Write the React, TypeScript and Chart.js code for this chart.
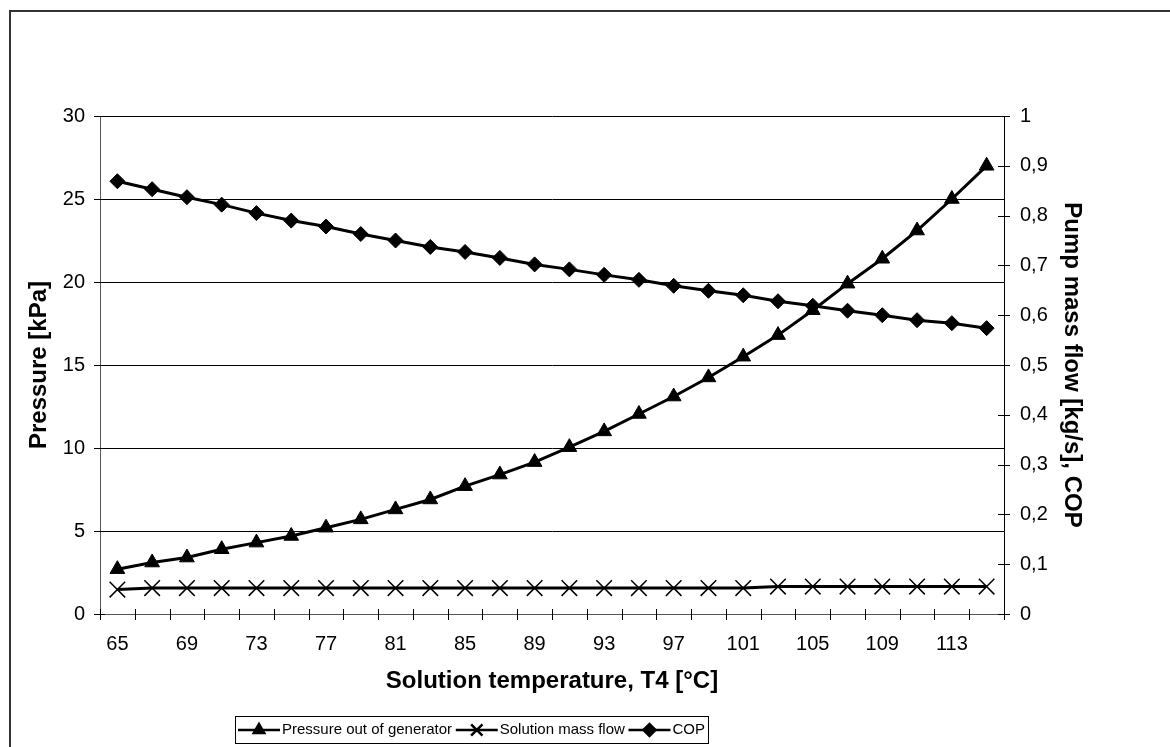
import { useEffect, useRef } from 'react';
import { Chart, registerables } from 'chart.js';
import { drawPoint } from 'chart.js/helpers';

Chart.register(...registerables);

const temperatures = ['65','67','69','71','73','75','77','79','81','83','85','87','89','91','93','95','97','99','101','103','105','107','109','111','113','115'];
const pressure = [2.7,3.1,3.4,3.9,4.3,4.7,5.2,5.7,6.3,6.9,7.7,8.4,9.15,10.05,11.0,12.05,13.1,14.25,15.5,16.8,18.3,19.9,21.4,23.1,25.0,27.0];
const massFlow = [0.049,0.052,0.052,0.052,0.052,0.052,0.052,0.052,0.052,0.052,0.052,0.052,0.052,0.052,0.052,0.052,0.052,0.052,0.052,0.055,0.055,0.055,0.055,0.055,0.055,0.055];
const cop = [0.869,0.853,0.837,0.822,0.805,0.790,0.778,0.763,0.750,0.737,0.727,0.715,0.702,0.692,0.681,0.671,0.659,0.649,0.640,0.628,0.619,0.609,0.600,0.590,0.584,0.574];
const seriesNames = ['Pressure out of generator', 'Solution mass flow', 'COP'];

const FONT = "'Liberation Sans', Arial, sans-serif";

const decor = {
  id: 'decor',
  beforeDraw(chart: any) {
    const ctx = chart.ctx;
    ctx.save();
    ctx.fillStyle = '#fff';
    ctx.fillRect(0, 0, chart.width, chart.height);
    ctx.strokeStyle = '#333';
    ctx.lineWidth = 2;
    ctx.strokeRect(10, 11, chart.width + 50, chart.height + 50);
    ctx.restore();
  },
  afterDraw(chart: any) {
    const ctx = chart.ctx;
    const { x, y, y1 } = chart.scales;
    const area = chart.chartArea;
    ctx.save();
    ctx.strokeStyle = '#000';
    ctx.lineWidth = 1;
    const n = chart.data.labels.length;
    const half = (x.getPixelForValue(1) - x.getPixelForValue(0)) / 2;
    for (let i = 0; i <= n; i++) {
      const px = Math.round(i < n ? x.getPixelForValue(i) - half : x.getPixelForValue(n - 1) + half) + 0.5;
      ctx.beginPath();
      ctx.moveTo(px, area.bottom - 5);
      ctx.lineTo(px, area.bottom + 6);
      ctx.stroke();
    }
    y.ticks.forEach((t: any) => {
      const py = Math.round(y.getPixelForValue(t.value)) + 0.5;
      ctx.beginPath();
      ctx.moveTo(area.left - 6, py);
      ctx.lineTo(area.left + 5, py);
      ctx.stroke();
    });
    y1.ticks.forEach((t: any) => {
      const py = Math.round(y1.getPixelForValue(t.value)) + 0.5;
      ctx.beginPath();
      ctx.moveTo(area.right - 6, py);
      ctx.lineTo(area.right + 6, py);
      ctx.stroke();
    });
    // legend
    ctx.font = `15px ${FONT}`;
    ctx.textBaseline = 'middle';
    ctx.textAlign = 'left';
    const boxL = 235, boxR = 708, top = 716, h = 27;
    const symW = 42, gapText = 2, pad = 3;
    const ds = chart.data.datasets;
    const widths = ds.map((d: any) => ctx.measureText(d.label).width);
    const textTotal = widths.reduce((a: number, b: number) => a + b, 0);
    const gapItem = Math.max(2, (boxR - boxL - 2 * pad - ds.length * (symW + gapText) - textTotal) / (ds.length - 1));
    ctx.lineWidth = 1;
    ctx.strokeStyle = '#000';
    ctx.strokeRect(boxL + 0.5, top + 0.5, boxR - boxL, h);
    const my = top + h / 2 + 0.5;
    let lx = boxL + pad;
    ds.forEach((d: any, i: number) => {
      if (i > 0) lx += gapItem;
      ctx.strokeStyle = '#000';
      ctx.fillStyle = '#000';
      ctx.lineWidth = 2.5;
      ctx.beginPath();
      ctx.moveTo(lx, my);
      ctx.lineTo(lx + symW, my);
      ctx.stroke();
      const isCross = d.pointStyle === 'crossRot';
      drawPoint(ctx, { pointStyle: d.pointStyle, radius: isCross ? 8 : 6, rotation: 0, borderWidth: isCross ? 1.2 : 1 }, lx + symW / 2, my);
      lx += symW + gapText;
      ctx.fillStyle = '#000';
      ctx.fillText(d.label, lx, my);
      lx += widths[i];
    });
    ctx.restore();
  },
};

function fmt(v: number) {
  if (v === 0) return '0';
  if (Math.abs(v - 1) < 1e-9) return '1';
  return v.toFixed(1).replace('.', ',');
}

export default function App() {
  const ref = useRef<HTMLCanvasElement | null>(null);
  useEffect(() => {
    if (!ref.current) return;
    Chart.defaults.font.family = FONT;
    const chart = new Chart(ref.current, {
      type: 'line',
      data: {
        labels: temperatures,
        datasets: [
          {
            label: seriesNames[0],
            data: pressure,
            yAxisID: 'y',
            borderColor: '#000',
            backgroundColor: '#000',
            borderWidth: 3,
            pointStyle: 'triangle',
            pointRadius: 8.5,
            pointBorderWidth: 1,
            tension: 0,
          },
          {
            label: seriesNames[1],
            data: massFlow,
            yAxisID: 'y1',
            borderColor: '#000',
            backgroundColor: '#000',
            borderWidth: 3,
            pointStyle: 'crossRot',
            pointRadius: 11,
            pointBorderWidth: 1.5,
            tension: 0,
          },
          {
            label: seriesNames[2],
            data: cop,
            yAxisID: 'y1',
            borderColor: '#000',
            backgroundColor: '#000',
            borderWidth: 3,
            pointStyle: 'rectRot',
            pointRadius: 7.5,
            pointBorderWidth: 1,
            tension: 0,
          },
        ],
      },
      options: {
        responsive: false,
        animation: false,
        events: [],
        layout: { padding: { top: 116, left: 0, right: 0, bottom: 0 } },
        plugins: { legend: { display: false }, tooltip: { enabled: false } },
        scales: {
          x: {
            type: 'category',
            offset: true,
            grid: { display: false, drawTicks: false },
            border: { display: true, color: '#555', width: 1 },
            ticks: {
              autoSkip: false,
              maxRotation: 0,
              color: '#000',
              font: { size: 20 },
              padding: 18,
              callback: (_v: any, i: number) => (i % 2 === 0 ? temperatures[i] : ''),
            },
            title: {
              display: true,
              text: 'Solution temperature, T4 [°C]',
              color: '#000',
              font: { size: 24, weight: 'bold' },
              padding: { top: 0, bottom: 51 },
            },
            afterFit: (s: any) => { s.height = 133; },
          },
          y: {
            position: 'left',
            min: 0,
            max: 30,
            ticks: { stepSize: 5, color: '#000', font: { size: 20 }, padding: 15 },
            grid: { color: '#000', lineWidth: 1, drawTicks: false },
            border: { display: true, color: '#555', width: 1 },
            title: {
              display: true,
              text: 'Pressure [kPa]',
              color: '#000',
              font: { size: 24, weight: 'bold' },
              padding: { top: 25, bottom: 0 },
            },
            afterFit: (s: any) => { s.width = 100; },
          },
          y1: {
            position: 'right',
            min: 0,
            max: 1,
            ticks: { stepSize: 0.1, color: '#000', font: { size: 20 }, padding: 16, callback: (v: any) => fmt(Number(v)) },
            grid: { drawOnChartArea: false, drawTicks: false },
            border: { display: true, color: '#000', width: 1 },
            title: {
              display: true,
              text: 'Pump mass flow [kg/s], COP',
              color: '#000',
              font: { size: 24, weight: 'bold' },
              padding: { top: 84, bottom: 0 },
            },
            afterFit: (s: any) => { s.width = 166; },
          },
        },
      },
      plugins: [decor],
    });
    return () => chart.destroy();
  }, []);
  return (
    <div style={{ position: 'absolute', left: 0, top: 0, width: 1170, height: 747 }}>
      <canvas ref={ref} width={1170} height={747} style={{ display: 'block' }} />
    </div>
  );
}
